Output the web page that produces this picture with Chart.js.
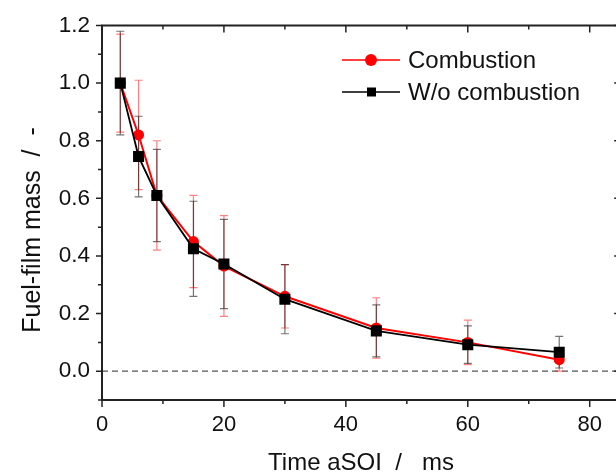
<!DOCTYPE html>
<html>
<head>
<meta charset="utf-8">
<script src="https://cdn.jsdelivr.net/npm/chart.js@4.4.0/dist/chart.umd.min.js"></script>
<style>
  html, body { margin: 0; padding: 0; background: #fff; overflow: hidden; }
  #wrap { width: 628px; height: 476px; }
</style>
</head>
<body>
<div id="wrap"><canvas id="myChart" width="628" height="476"></canvas></div>
<script>
// data
const timeVals = [3, 6, 9, 15, 20, 30, 45, 60, 75];
const combMass = [1.00, 0.82, 0.61, 0.45, 0.365, 0.26, 0.15, 0.10, 0.04];
const combErr  = [0.17, 0.19, 0.19, 0.16, 0.175, 0.11, 0.105, 0.077, 0.04];
const noCombMass = [1.00, 0.745, 0.61, 0.425, 0.372, 0.25, 0.14, 0.092, 0.066];
const noCombErr  = [0.18, 0.14, 0.16, 0.165, 0.155, 0.12, 0.09, 0.065, 0.055];

const xTicks = [0, 20, 40, 60, 80];
const yTicks = [0.0, 0.2, 0.4, 0.6, 0.8, 1.0, 1.2];
const xMinor = [10, 30, 50, 70];
const yMinor = [-0.1, 0.1, 0.3, 0.5, 0.7, 0.9, 1.1];

const FONT = "'Liberation Sans', Arial, sans-serif";

function toPts(xs, ys, es) {
    return xs.map(function(x, i) {
        return { x: x, y: ys[i], err: es[i] };
    });
}

// frame, ticks, dashed zero line, axis titles
const framePlugin = {
    id: 'framePlugin',
    beforeDatasetsDraw: (chart) => {
        const ctx = chart.ctx;
        const {top, left, right, bottom} = chart.chartArea;
        const xs = chart.scales.x, ys = chart.scales.y;

        // dashed zero line
        ctx.save();
        ctx.strokeStyle = '#555';
        ctx.lineWidth = 1.2;
        ctx.setLineDash([6, 4]);
        ctx.beginPath();
        const y0 = ys.getPixelForValue(0);
        ctx.moveTo(left, y0);
        ctx.lineTo(right, y0);
        ctx.stroke();
        ctx.restore();

        // error bars
        chart.data.datasets.forEach(function(ds, di) {
            ctx.save();
            ctx.strokeStyle = ds.errColor;
            ctx.lineWidth = 1.2;
            ds.data.forEach(function(p) {
                const px = xs.getPixelForValue(p.x);
                const pt = ys.getPixelForValue(p.y + p.err);
                const pb = ys.getPixelForValue(p.y - p.err);
                ctx.beginPath();
                ctx.moveTo(px, pt); ctx.lineTo(px, pb);
                ctx.moveTo(px - 4, pt); ctx.lineTo(px + 4, pt);
                ctx.moveTo(px - 4, pb); ctx.lineTo(px + 4, pb);
                ctx.stroke();
            });
            ctx.restore();
        });
    },
    afterDraw: (chart) => {
        const ctx = chart.ctx;
        const {top, left, right, bottom} = chart.chartArea;
        const xs = chart.scales.x, ys = chart.scales.y;

        ctx.save();
        ctx.strokeStyle = '#222';
        ctx.lineWidth = 2;
        ctx.strokeRect(left, top, right - left, bottom - top);

        ctx.lineWidth = 1.5;
        ctx.beginPath();
        xTicks.forEach(function(v) {
            const px = xs.getPixelForValue(v);
            ctx.moveTo(px, bottom); ctx.lineTo(px, bottom + 7);
            ctx.moveTo(px, top); ctx.lineTo(px, top + 7);
        });
        xMinor.forEach(function(v) {
            const px = xs.getPixelForValue(v);
            ctx.moveTo(px, bottom); ctx.lineTo(px, bottom + 4);
            ctx.moveTo(px, top); ctx.lineTo(px, top + 4);
        });
        yTicks.forEach(function(v) {
            const py = ys.getPixelForValue(v);
            ctx.moveTo(left - 6, py); ctx.lineTo(left, py);
            ctx.moveTo(right, py); ctx.lineTo(right - 6, py);
        });
        yMinor.forEach(function(v) {
            const py = ys.getPixelForValue(v);
            ctx.moveTo(left - 4, py); ctx.lineTo(left, py);
            ctx.moveTo(right, py); ctx.lineTo(right - 4, py);
        });
        ctx.stroke();

        // axis titles
        ctx.fillStyle = '#111';
        ctx.font = '24px ' + FONT;
        ctx.textAlign = 'center';
        ctx.textBaseline = 'middle';
        ctx.fillText('Time aSOI  /   ms', 361, 463);
        ctx.save();
        ctx.translate(33, 230);
        ctx.rotate(-Math.PI / 2);
        ctx.font = '25px ' + FONT;
        ctx.fillText('Fuel-film mass  /  -', 0, 0);
        ctx.restore();

        // legend
        ctx.font = '24px ' + FONT;
        ctx.textAlign = 'left';
        chart.data.datasets.forEach(function(ds, i) {
            const ly = 60 + i * 32;
            ctx.strokeStyle = ds.borderColor;
            ctx.lineWidth = 1.5;
            ctx.beginPath();
            ctx.moveTo(342, ly); ctx.lineTo(400, ly);
            ctx.stroke();
            ctx.fillStyle = ds.backgroundColor;
            if (ds.pointStyle === 'circle') {
                ctx.beginPath();
                ctx.arc(371, ly, 6, 0, Math.PI * 2);
                ctx.fill();
            } else {
                ctx.fillRect(367, ly - 4.5, 9, 9);
            }
            ctx.fillStyle = '#111';
            ctx.fillText(ds.label, 408, ly + 1);
        });
        ctx.restore();
    }
};

const ctx = document.getElementById('myChart').getContext('2d');

const config = {
    type: 'line',
    data: {
        datasets: [{
            label: 'Combustion',
            data: toPts(timeVals, combMass, combErr),
            borderColor: '#ff0000',
            backgroundColor: '#ff0000',
            errColor: 'rgba(255,0,0,0.5)',
            borderWidth: 2,
            pointStyle: 'circle',
            pointRadius: 5.5,
            pointBorderWidth: 0,
            order: 1
        }, {
            label: 'W/o combustion',
            data: toPts(timeVals, noCombMass, noCombErr),
            borderColor: '#000000',
            backgroundColor: '#000000',
            errColor: 'rgba(0,0,0,0.55)',
            borderWidth: 1.8,
            pointStyle: 'rect',
            pointRadius: 7.8,
            pointBorderWidth: 0,
            order: 0
        }]
    },
    plugins: [framePlugin],
    options: {
        responsive: false,
        animation: false,
        layout: { padding: { top: 18, right: 3, left: 0, bottom: 0 } },
        scales: {
            x: {
                type: 'linear',
                min: 0,
                max: 85,
                afterBuildTicks: (s) => { s.ticks = xTicks.map(v => ({ value: v })); },
                afterFit: (s) => { s.height = 76; },
                grid: { display: false, drawTicks: false },
                border: { display: false },
                ticks: { padding: 12, color: '#111', font: { family: FONT, size: 22 } }
            },
            y: {
                min: -0.1,
                max: 1.2,
                afterBuildTicks: (s) => { s.ticks = yTicks.map(v => ({ value: v })); },
                afterFit: (s) => { s.width = 102; },
                grid: { display: false, drawTicks: false },
                border: { display: false },
                ticks: {
                    padding: 12,
                    color: '#111',
                    font: { family: FONT, size: 22.5 },
                    callback: (v) => Number(v).toFixed(1)
                }
            }
        },
        plugins: {
            legend: { display: false },
            tooltip: { enabled: false }
        }
    }
};

new Chart(ctx, config);
</script>
</body>
</html>
